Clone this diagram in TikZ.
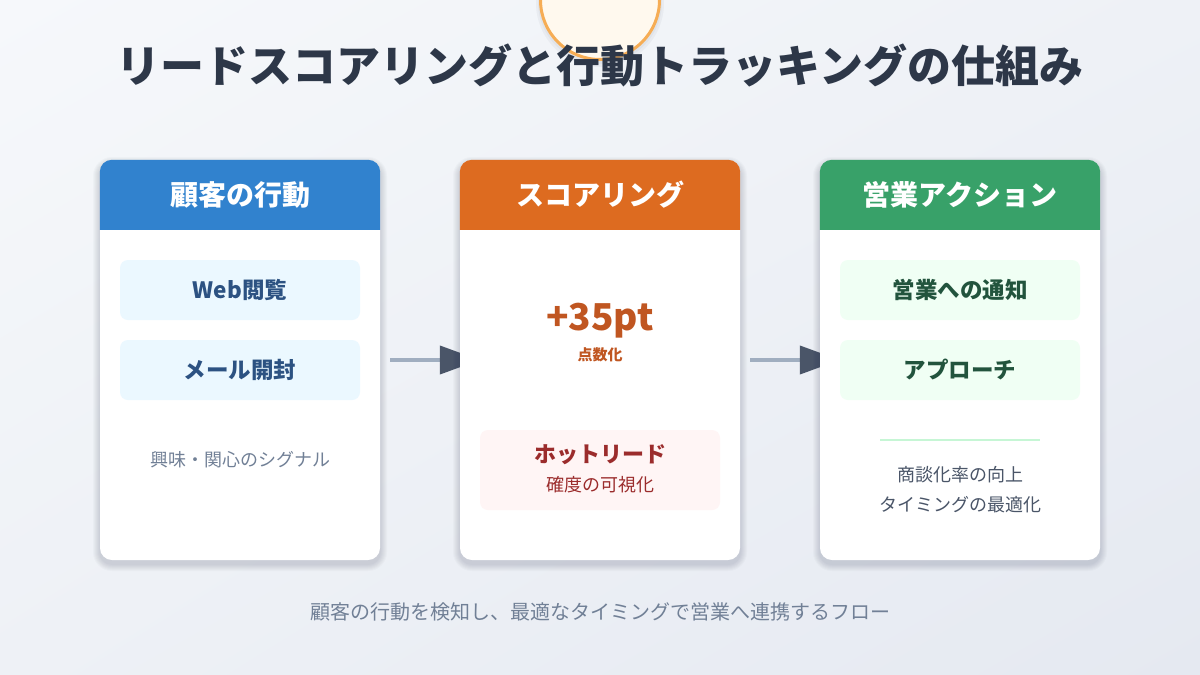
\documentclass[tikz,border=0pt]{standalone}
\usepackage{fontspec}
\setmainfont{Noto Sans CJK JP}
\usetikzlibrary{arrows.meta,shadings}
\definecolor{bgA}{HTML}{F6F8FB}
\definecolor{bgB}{HTML}{EEF1F6}
\definecolor{bgC}{HTML}{E5E9F1}
\definecolor{titlec}{HTML}{2D3748}
\definecolor{hblue}{HTML}{3182CE}
\definecolor{horange}{HTML}{DD6B20}
\definecolor{hgreen}{HTML}{38A169}
\definecolor{lblue}{HTML}{EBF8FF}
\definecolor{tblue}{HTML}{2C5282}
\definecolor{lred}{HTML}{FFF5F5}
\definecolor{tred}{HTML}{9B2C2C}
\definecolor{lgreen}{HTML}{F0FFF4}
\definecolor{tgreen}{HTML}{22543D}
\definecolor{grayt}{HTML}{718096}
\definecolor{darkt}{HTML}{4A5568}
\definecolor{orangetxt}{HTML}{C05621}
\definecolor{arrline}{HTML}{A0AEC0}
\definecolor{arrtip}{HTML}{4A5568}
\definecolor{divc}{HTML}{C6F6D5}
\definecolor{circfill}{HTML}{FFF9EE}
\definecolor{circline}{HTML}{F6AD55}
\definecolor{shadowc}{HTML}{1A2540}
\pgfdeclarelayer{back}
\pgfdeclarelayer{arrows}
\pgfsetlayers{back,arrows,main}
\tikzset{
  card/.style={rounded corners=12pt, fill=white, minimum width=280pt, minimum height=400pt, inner sep=0pt},
  headtext/.style={text=white, font=\fontsize{28}{28}\selectfont\bfseries, inner sep=0pt},
  ibox/.style={rounded corners=8pt, minimum width=240pt, minimum height=60pt, inner sep=0pt,
    font=\fontsize{22.5}{22.5}\selectfont\bfseries},
  smalltext/.style={font=\fontsize{18}{18}\selectfont, inner sep=0pt},
  flowarrow/.style={line width=4pt, draw=arrline, shorten <=10pt, shorten >=-20pt,
    -{Triangle[length=40pt,width=28pt,color=arrtip]}},
}
\newcommand{\headerband}[2]{%
  \fill[#2] ([yshift=-70pt]#1.north west) [rounded corners=12pt] -- (#1.north west) -- (#1.north east) [sharp corners] -- ([yshift=-70pt]#1.north east) -- cycle;}
% soft shadow behind a card centred at (#1,#2)
\newcommand{\softshadow}[2]{%
  \foreach \s in {1,...,7}{%
    \fill[shadowc, opacity=0.022, rounded corners={12pt+\s pt}]
      ({#1-140-\s}, {#2-200-\s+4}) rectangle ({#1+140+\s}, {#2+200+\s+4});
  }}
\begin{document}
\begin{tikzpicture}[x=1pt,y=-1pt]
\useasboundingbox (0,0) rectangle (1200,675);
\begin{pgfonlayer}{back}
\shade[upper left=bgA, upper right=bgB, lower left=bgB, lower right=bgC] (0,0) rectangle (1200,675);
\end{pgfonlayer}
% top circle with soft shadow
\fill[shadowc, opacity=0.04] (600,3) circle[radius=64];
\fill[shadowc, opacity=0.04] (600,2) circle[radius=62];
\node[circle, minimum size=119pt, inner sep=0pt, fill=circfill, draw=circline, line width=3pt] (sun) at (600,0) {};
% title
\node[text=titlec, font=\fontsize{44}{44}\selectfont\bfseries, inner sep=0pt] (title) at (600,65) {リードスコアリングと行動トラッキングの仕組み};
% cards
\softshadow{240}{360}
\softshadow{600}{360}
\softshadow{960}{360}
\node[card] (c1) at (240,360) {};
\node[card] (c2) at (600,360) {};
\node[card] (c3) at (960,360) {};
\headerband{c1}{hblue}
\headerband{c2}{horange}
\headerband{c3}{hgreen}
\node[headtext] (h1) at (240,195) {顧客の行動};
\node[headtext] (h2) at (600,195) {スコアリング};
\node[headtext] (h3) at (960,195) {営業アクション};
% card 1
\node[ibox, fill=lblue, text=tblue] (web) at (240,290) {Web閲覧};
\node[ibox, fill=lblue, text=tblue] (mail) at (240,370) {メール開封};
\node[smalltext, text=grayt] (sig) at (240,460) {興味・関心のシグナル};
% card 2
\node[text=orangetxt, font=\fontsize{37}{37}\selectfont\bfseries, inner sep=0pt] (pts) at (600,321) {+35pt};
\node[text=orangetxt, font=\fontsize{15}{15}\selectfont\bfseries, inner sep=0pt] (ptl) at (600,355) {点数化};
\node[rounded corners=8pt, minimum width=240pt, minimum height=80pt, fill=lred, inner sep=0pt] (hot) at (600,470) {};
\node[text=tred, font=\fontsize{22}{22}\selectfont\bfseries, inner sep=0pt] (hott) at (600,455) {ホットリード};
\node[text=tred, font=\fontsize{18}{18}\selectfont, inner sep=0pt] (hots) at (600,485) {確度の可視化};
% card 3
\node[ibox, fill=lgreen, text=tgreen] (notify) at (960,290) {営業への通知};
\node[ibox, fill=lgreen, text=tgreen] (appr) at (960,370) {アプローチ};
\coordinate (dl) at (880,440);
\coordinate (dr) at (1040,440);
\draw[divc, line width=2pt] (dl) -- (dr);
\node[smalltext, text=darkt] (r1) at (960,475) {商談化率の向上};
\node[smalltext, text=darkt] (r2) at (960,505) {タイミングの最適化};
% arrows
\begin{pgfonlayer}{arrows}
\draw[flowarrow] (c1.east) -- (c2.west);
\draw[flowarrow] (c2.east) -- (c3.west);
\end{pgfonlayer}
% footer
\node[text=grayt, font=\fontsize{20}{20}\selectfont, inner sep=0pt] (foot) at (600,612) {顧客の行動を検知し、最適なタイミングで営業へ連携するフロー};
\end{tikzpicture}
\end{document}
